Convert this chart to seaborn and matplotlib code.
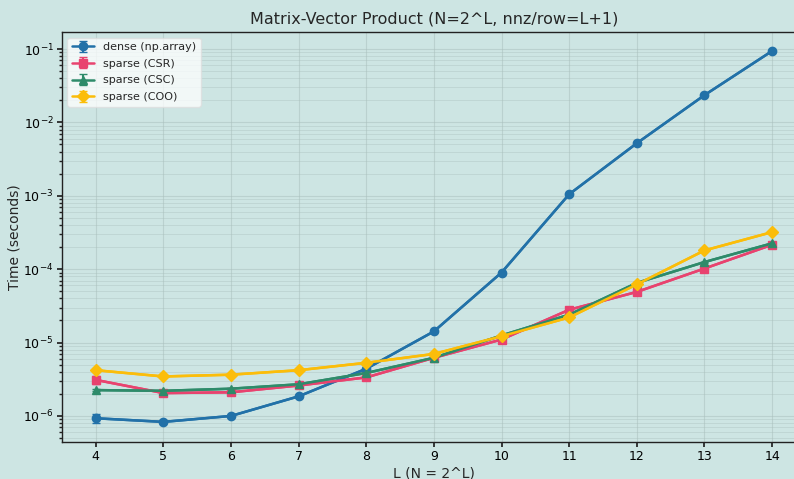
import numpy as np
import pandas as pd
import matplotlib
matplotlib.use("Agg")
import matplotlib.pyplot as plt
import seaborn as sns

L_values = [4, 5, 6, 7, 8, 9, 10, 11, 12, 13, 14]
dense = [9.3e-7, 8.3e-7, 1.0e-6, 1.85e-6, 4.4e-6, 1.42e-5, 9.0e-5, 1.05e-3, 5.2e-3, 2.35e-2, 9.4e-2]
csr = [3.1e-6, 2.05e-6, 2.1e-6, 2.6e-6, 3.35e-6, 6.2e-6, 1.1e-5, 2.8e-5, 4.9e-5, 1.02e-4, 2.15e-4]
csc = [2.25e-6, 2.2e-6, 2.35e-6, 2.7e-6, 3.85e-6, 6.2e-6, 1.25e-5, 2.4e-5, 6.5e-5, 1.25e-4, 2.25e-4]
coo = [4.2e-6, 3.45e-6, 3.65e-6, 4.2e-6, 5.3e-6, 7.0e-6, 1.22e-5, 2.2e-5, 6.2e-5, 1.8e-4, 3.2e-4]
dense_err = [1.2e-7, 4e-8, 4e-8, 6e-8, 1e-7, 3e-7, 1e-6, 1e-5, 5e-5, 2e-4, 8e-4]
csr_err = [4e-7, 5e-8, 5e-8, 6e-8, 8e-8, 1e-7, 2e-7, 5e-7, 8e-7, 2e-6, 4e-6]
csc_err = [5e-8, 5e-8, 5e-8, 6e-8, 8e-8, 1e-7, 2e-7, 5e-7, 1e-6, 2e-6, 4e-6]
coo_err = [8e-8, 6e-8, 6e-8, 8e-8, 1e-7, 1e-7, 2e-7, 5e-7, 1e-6, 3e-6, 5e-6]
labels = ["dense (np.array)", "sparse (CSR)", "sparse (CSC)", "sparse (COO)"]
colors = ["#2271a8", "#e8436f", "#2e8b6a", "#fbbd0a"]
markers = ["o", "s", "^", "D"]

bg = "#cde5e3"
sns.set_theme(style="ticks")
plt.rcParams["font.family"] = ["DejaVu Sans"]

fig = plt.figure(figsize=(7.94, 4.79), dpi=100, facecolor=bg)
ax = fig.add_axes([0.078, 0.077, 0.937, 0.856])
ax.set_facecolor(bg)

series = [dense, csr, csc, coo]
errs = [dense_err, csr_err, csc_err, coo_err]
for vals, err, lab, col, mk in zip(series, errs, labels, colors, markers):
    df = pd.DataFrame({"L": L_values, "t": vals})
    sns.lineplot(data=df, x="L", y="t", ax=ax, color=col, linewidth=1.8, legend=False)
    ax.errorbar(L_values, vals, yerr=err, fmt="-" + mk, color=col, label=lab,
                markersize=6, linewidth=1.8, capsize=3, elinewidth=1.5)

ax.set_yscale("log")
ax.set_xlim(3.5, 14.5)
ax.set_ylim(4.4e-7, 0.17)
ax.set_xticks(L_values)
ax.set_xticklabels([str(v) for v in L_values])
ax.grid(True, which="major", color="#a9bfbc", linewidth=0.8, alpha=0.5)
ax.grid(True, which="minor", axis="y", color="#a9bfbc", linewidth=0.6, alpha=0.45)
ax.tick_params(axis="both", which="major", labelsize=9, colors="#222222", length=3.5, pad=2.5)
ax.tick_params(axis="y", which="minor", length=2, colors="#222222")
ax.tick_params(labelcolor="black")
ax.set_xlabel("L (N = 2^L)", fontsize=10, labelpad=2)
ax.set_ylabel("Time (seconds)", fontsize=10, labelpad=1)
ax.set_title("Matrix-Vector Product (N=2^L, nnz/row=L+1)", fontsize=11.5)
for s in ax.spines.values():
    s.set_color("#222222")
    s.set_linewidth(1.0)

leg = ax.legend(loc="upper left", fontsize=8, frameon=True, facecolor="white",
                framealpha=0.75, edgecolor="#dddddd", labelspacing=0.6)

fig.savefig("out.png", dpi=100, facecolor=bg)
